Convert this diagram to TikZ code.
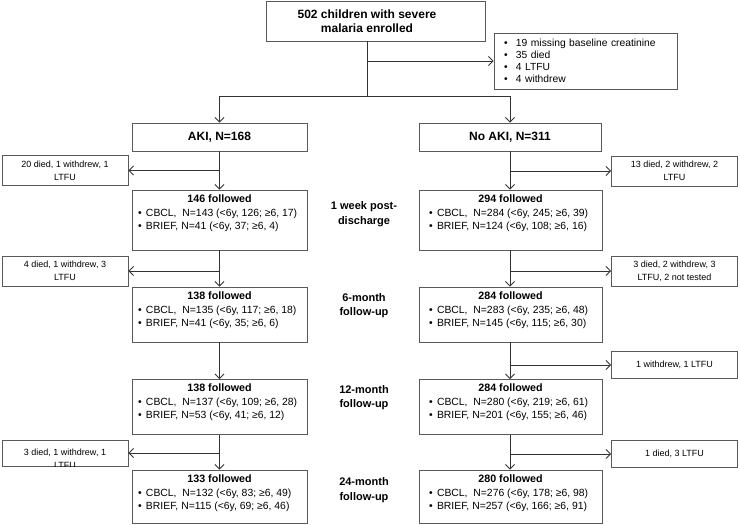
\documentclass[tikz,border=0pt]{standalone}
\usepackage{fontspec}
\setmainfont{Liberation Sans}
\usetikzlibrary{arrows.meta}
\newcommand\fbody[4]{\parbox[c][#1][t]{171pt}{\vspace*{2.5pt}\centering\fontsize{10.7}{13}\selectfont\bfseries #2\par\vspace{1pt}\raggedright\fontsize{10.4}{13}\selectfont\mdseries\hspace*{4pt}\makebox[8pt][l]{•}#3\par\hspace*{4pt}\makebox[8pt][l]{•}#4\par}}
\newcommand\bitem[1]{\hspace*{8pt}\makebox[12pt][l]{•}#1}
\begin{document}
\begin{tikzpicture}[x=1pt,y=-1pt,
  box/.style={draw=black!65, line width=0.9pt, inner sep=2pt, align=center},
  fol/.style={box, minimum width=175pt},
  folr/.style={box, minimum width=183pt},
  arr/.style={draw=black!80, line width=0.8pt, -{Straight Barb[length=4.5pt,width=9pt]}},
  ln/.style={draw=black!80, line width=0.8pt},
  lbl/.style={font=\fontsize{11}{14.5}\selectfont\bfseries, align=center},
  ex/.style={box, font=\fontsize{9}{13}\selectfont, minimum width=126pt, minimum height=30pt},
  hd/.style={box, font=\fontsize{12}{14}\selectfont\bfseries, minimum height=28pt},
]
\useasboundingbox (0,0) rectangle (740,525);

% top
\node[box, minimum width=219pt, minimum height=40pt] (top) at (375.5,21) {};
\node[font=\fontsize{12}{14.5}\selectfont\bfseries, align=center] (toptext) at (367,21) {502 children with severe\\malaria enrolled};
\node[box, text width=179pt, minimum height=56pt, align=left, font=\fontsize{10.3}{11.8}\selectfont] (exc) at (585.5,61)
  {\bitem{19 missing baseline creatinine}\\\bitem{35 died}\\\bitem{4 LTFU}\\\bitem{4 withdrew}};
\coordinate (split) at (367,96);

% arms
\node[hd, minimum width=175pt] (aki) at (219.5,137) {AKI, N=168};
\node[hd, minimum width=182pt] (noaki) at (510,137) {No AKI, N=311};

% followed boxes left
\node[fol] (f1L) at (219.5,220) {\fbody{56pt}{146 followed}{CBCL,\ \ N=143 (<6y, 126; ≥6, 17)}{BRIEF, N=41 (<6y, 37; ≥6, 4)}};
\node[fol] (f2L) at (219.5,314.5) {\fbody{51pt}{138 followed}{CBCL,\ \ N=135 (<6y, 117; ≥6, 18)}{BRIEF, N=41 (<6y, 35; ≥6, 6)}};
\node[fol] (f3L) at (219.5,407) {\fbody{51pt}{138 followed}{CBCL,\ \ N=137 (<6y, 109; ≥6, 28)}{BRIEF, N=53 (<6y, 41; ≥6, 12)}};
\node[fol] (f4L) at (219.5,496.5) {\fbody{49pt}{133 followed}{CBCL,\ \ N=132 (<6y, 83; ≥6, 49)}{BRIEF, N=115 (<6y, 69; ≥6, 46)}};

% followed boxes right
\node[folr] (f1R) at (510.5,220) {\fbody{56pt}{294 followed}{CBCL,\ \ N=284 (<6y, 245; ≥6, 39)}{BRIEF, N=124 (<6y, 108; ≥6, 16)}};
\node[folr] (f2R) at (510.5,314.5) {\fbody{51pt}{284 followed}{CBCL,\ \ N=283 (<6y, 235; ≥6, 48)}{BRIEF, N=145 (<6y, 115; ≥6, 30)}};
\node[folr] (f3R) at (510.5,407) {\fbody{51pt}{284 followed}{CBCL,\ \ N=280 (<6y, 219; ≥6, 61)}{BRIEF, N=201 (<6y, 155; ≥6, 46)}};
\node[folr] (f4R) at (510.5,496.5) {\fbody{49pt}{280 followed}{CBCL,\ \ N=276 (<6y, 178; ≥6, 98)}{BRIEF, N=257 (<6y, 166; ≥6, 91)}};

% time labels
\node[lbl] (t1) at (364,214) {1 week post-\\discharge};
\node[lbl] (t2) at (364,305.5) {6-month\\follow-up};
\node[lbl] (t3) at (364,397.5) {12-month\\follow-up};
\node[lbl] (t4) at (364,490) {24-month\\follow-up};

% exclusion boxes
\node[ex] (x1L) at (65,170.5) {20 died, 1 withdrew, 1\\LTFU};
\node[ex] (x2L) at (65,271) {4 died, 1 withdrew, 3\\LTFU};
\node[ex, minimum height=26pt] (x4L) at (65,453) {};
\begin{scope}
  \clip (x4L.south west) rectangle (x4L.north east);
  \node[font=\fontsize{9}{13}\selectfont, align=center] (x4Lt) at (65,459) {3 died, 1 withdrew, 1\\LTFU};
\end{scope}
\node[ex] (x1R) at (674.5,171) {13 died, 2 withdrew, 2\\LTFU};
\node[ex] (x2R) at (674.5,271) {3 died, 2 withdrew, 3\\LTFU, 2 not tested};
\node[ex, minimum height=27pt] (x3R) at (674.5,365) {1 withdrew, 1 LTFU};
\node[ex, minimum height=27pt] (x4R) at (674.5,454) {1 died, 3 LTFU};

% connectors top
\draw[ln] (top.south -| split) -- (split);
\draw[arr] (split) -| (aki.north);
\draw[arr] (split) -| (noaki.north);
\draw[arr] (exc.west -| split) -- (exc.west);

% left column
\draw[arr] (aki.south) -- (f1L.north);
\draw[arr] (f1L.south) -- (f2L.north);
\draw[arr] (f2L.south) -- (f3L.north);
\draw[arr] (f3L.south) -- (f4L.north);
\draw[arr] (x1L.east -| aki.south) -- (x1L.east);
\draw[arr] (x2L.east -| f1L.south) -- (x2L.east);
\draw[arr] (x4L.east -| f3L.south) -- (x4L.east);

% right column
\draw[arr] (noaki.south) -- (noaki.south |- f1R.north);
\draw[arr] (f1R.south -| noaki.south) -- (noaki.south |- f2R.north);
\draw[arr] (f2R.south -| noaki.south) -- (noaki.south |- f3R.north);
\draw[arr] (f3R.south -| noaki.south) -- (noaki.south |- f4R.north);
\draw[arr] (x1R.west -| noaki.south) -- (x1R.west);
\draw[arr] (x2R.west -| noaki.south) -- (x2R.west);
\draw[arr] (x3R.west -| noaki.south) -- (x3R.west);
\draw[arr] (x4R.west -| noaki.south) -- (x4R.west);
\end{tikzpicture}
\end{document}
